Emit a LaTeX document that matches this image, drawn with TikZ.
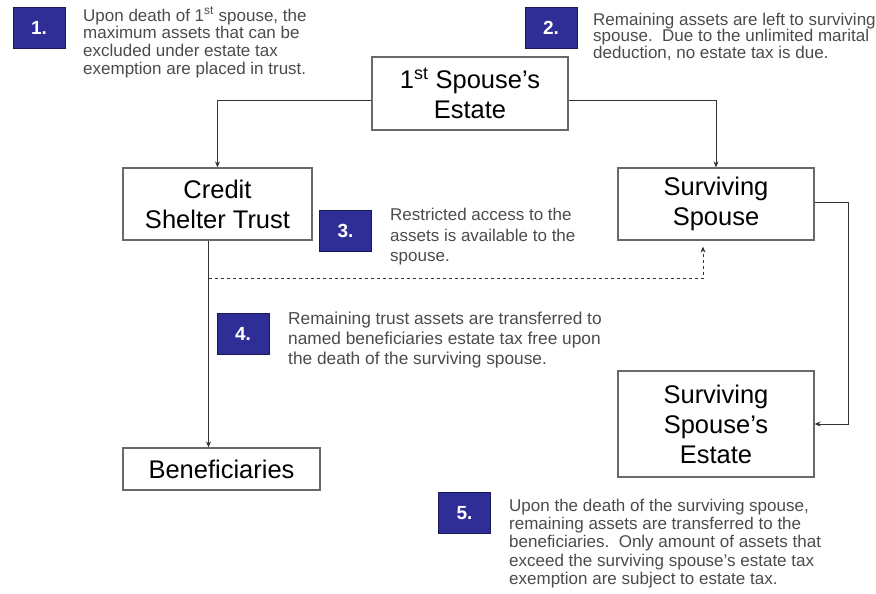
\documentclass[tikz,border=0pt]{standalone}
\usepackage{fontspec}
\setmainfont{Liberation Sans}
\usetikzlibrary{arrows.meta}
\definecolor{numblue}{RGB}{46,46,150}
\definecolor{numedge}{RGB}{25,25,90}
\definecolor{boxedge}{RGB}{105,105,105}
\definecolor{txtgray}{RGB}{75,75,75}
\begin{document}
\begin{tikzpicture}[x=1pt,y=-1pt,
  bigbox/.style={draw=boxedge, line width=1.3pt, fill=white, align=center,
    font=\fontsize{25.5}{30}\selectfont, inner sep=0pt},
  numbox/.style={draw=numedge, line width=0.8pt, fill=numblue, minimum width=52pt,
    minimum height=41pt, text=white, font=\fontsize{19}{20}\selectfont\bfseries, inner sep=0pt},
  note/.style={anchor=north west, align=left, text=txtgray, inner sep=0pt},
  conn/.style={draw=black!80, line width=0.8pt, -{Stealth[length=6pt,width=5pt]}},
]
\useasboundingbox (0,0) rectangle (876,594);

% main boxes
\node[bigbox, minimum width=196pt, minimum height=73pt] (first) at (470,93.5) {1\textsuperscript{st} Spouse’s\\Estate};
\node[bigbox, minimum width=189pt, minimum height=72pt] (cst) at (217.5,204) {Credit\\Shelter Trust};
\node[bigbox, minimum width=196pt, minimum height=72pt] (ss) at (716,204) {Surviving\\Spouse};
\node[bigbox, minimum width=196pt, minimum height=106pt] (sse) at (716,424) {Surviving\\Spouse’s\\Estate};
\node[bigbox, minimum width=197pt, minimum height=42pt] (ben) at (221.5,469) {Beneficiaries};

% number boxes
\node[numbox] (n1) at (39,27.5) {1.};
\node[numbox] (n2) at (551,28) {2.};
\node[numbox] (n3) at (345.5,231) {3.};
\node[numbox] (n4) at (243,333.5) {4.};
\node[numbox] (n5) at (464.5,513) {5.};

% notes
\node[note, font=\fontsize{17}{17.7}\selectfont] (t1) at (83,7) {Upon death of 1\textsuperscript{st} spouse, the\\maximum assets that can be\\excluded under estate tax\\exemption are placed in trust.};
\node[note, font=\fontsize{17}{16.8}\selectfont] (t2) at (593,12.5) {Remaining assets are left to surviving\\spouse.\ \ Due to the unlimited marital\\deduction, no estate tax is due.};
\node[note, font=\fontsize{17}{20.5}\selectfont] (t3) at (390,208) {Restricted access to the\\assets is available to the\\spouse.};
\node[note, font=\fontsize{17.3}{20}\selectfont] (t4) at (288,312) {Remaining trust assets are transferred to\\named beneficiaries estate tax free upon\\the death of the surviving spouse.};
\node[note, font=\fontsize{17}{18.2}\selectfont] (t5) at (509,499) {Upon the death of the surviving spouse,\\remaining assets are transferred to the\\beneficiaries.\ \ Only amount of assets that\\exceed the surviving spouse’s estate tax\\exemption are subject to estate tax.};

% connectors
\draw[conn] ([yshift=-6.5pt]first.west) -| (cst.north);
\draw[conn] ([yshift=-6.5pt]first.east) -| (ss.north);
\draw[conn] ([yshift=2pt]ss.east) -- ++(34,0) |- (sse.east);
\draw[conn] ([xshift=-9pt]cst.south) -- ([xshift=-13pt]ben.north);
\coordinate (d0) at (208.5,278);
\draw[conn, dashed] (d0) -| ([xshift=-13pt,yshift=-6pt]ss.south);
\end{tikzpicture}
\end{document}
